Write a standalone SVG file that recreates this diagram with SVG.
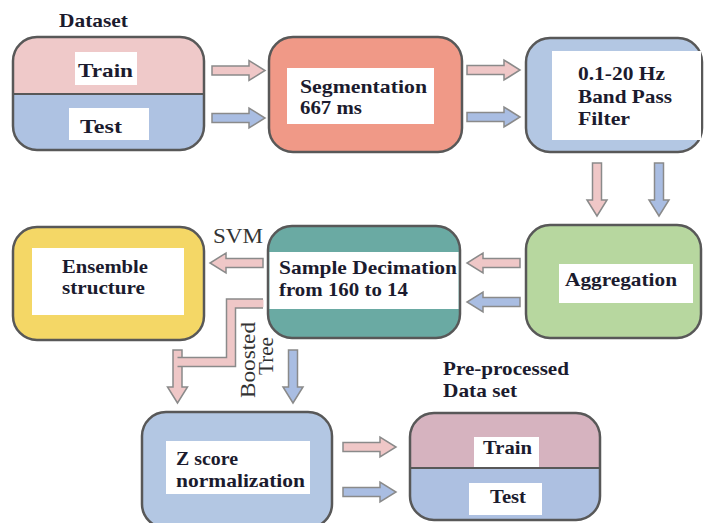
<svg xmlns="http://www.w3.org/2000/svg" xmlns:xlink="http://www.w3.org/1999/xlink" width="705" height="523" viewBox="0 0 705 523">
  <style>
    .box { stroke: #585858; stroke-width: 2.5; }
    .line { stroke: #585858; stroke-width: 2; fill: none; }
    .lbl { fill: #ffffff; }
    .t { font-family: "Liberation Serif", "Times New Roman", serif; font-weight: bold; font-size: 19px; fill: #1b1b2e; }
    .r { font-family: "Liberation Serif", "Times New Roman", serif; font-size: 20px; fill: #333333; }
    .pk { fill: #efc7c7; }
    .bl { fill: #a9bde2; }
    .arr { stroke: #8a8a8a; stroke-width: 1.5; stroke-linejoin: miter; }
  </style>
  <defs>
    <!-- block arrow pointing right, tail centre at origin -->
    <path id="arrow" d="M0,-4.5 H37 V-10 L53,0 L37,10 V4.5 H0 Z"/>
    <clipPath id="clipData"><rect x="13" y="37" width="191" height="113" rx="24"/></clipPath>
    <clipPath id="clipPre"><rect x="410" y="413" width="190" height="107" rx="24"/></clipPath>
  </defs>
  <rect width="705" height="523" fill="#ffffff"/>

  <!-- Dataset -->
  <g id="dataset">
    <text class="t" x="59" y="27" font-size="17" textLength="69" lengthAdjust="spacingAndGlyphs">Dataset</text>
    <rect x="13" y="37" width="191" height="113" rx="24" fill="#efc9c9"/>
    <rect x="13" y="94" width="191" height="56" fill="#aec2e2" clip-path="url(#clipData)"/>
    <line class="line" x1="13" y1="94" x2="204" y2="94"/>
    <rect class="box" x="13" y="37" width="191" height="113" rx="24" fill="none"/>
    <rect class="lbl" x="75" y="52" width="62" height="33"/>
    <text class="t" x="78" y="77" font-size="20" textLength="55" lengthAdjust="spacingAndGlyphs">Train</text>
    <rect class="lbl" x="69" y="108" width="80" height="32"/>
    <text class="t" x="80" y="133" font-size="20" textLength="42" lengthAdjust="spacingAndGlyphs">Test</text>
  </g>

  <!-- Segmentation -->
  <g id="segmentation">
    <rect class="box" x="269" y="37" width="193" height="115" rx="24" fill="#f09987"/>
    <rect class="lbl" x="287" y="68" width="147" height="56"/>
    <text class="t" x="300" y="93" textLength="127" lengthAdjust="spacingAndGlyphs">Segmentation</text>
    <text class="t" x="300" y="114" textLength="62" lengthAdjust="spacingAndGlyphs">667 ms</text>
  </g>

  <!-- Band pass filter -->
  <g id="filter">
    <rect class="box" x="526" y="38" width="176" height="114" rx="24" fill="#b3c7e3"/>
    <rect class="lbl" x="552" y="51" width="149" height="89"/>
    <text class="t" x="578" y="80" textLength="87" lengthAdjust="spacingAndGlyphs">0.1-20 Hz</text>
    <text class="t" x="578" y="103" textLength="94" lengthAdjust="spacingAndGlyphs">Band Pass</text>
    <text class="t" x="578" y="125" textLength="52" lengthAdjust="spacingAndGlyphs">Filter</text>
  </g>

  <!-- Aggregation -->
  <g id="aggregation">
    <rect class="box" x="526" y="225" width="175" height="113" rx="24" fill="#b7d79f"/>
    <rect class="lbl" x="559" y="264" width="134" height="39"/>
    <text class="t" x="565" y="286" textLength="112" lengthAdjust="spacingAndGlyphs">Aggregation</text>
  </g>

  <!-- Sample decimation -->
  <g id="decimation">
    <rect class="box" x="268" y="226" width="192" height="112" rx="24" fill="#6aaaa3"/>
    <rect class="lbl" x="269.5" y="252" width="189" height="57"/>
    <text class="t" x="279" y="274" textLength="178" lengthAdjust="spacingAndGlyphs">Sample Decimation</text>
    <text class="t" x="279" y="296" textLength="129" lengthAdjust="spacingAndGlyphs">from 160 to 14</text>
  </g>

  <!-- Ensemble structure -->
  <g id="ensemble">
    <rect class="box" x="13" y="227" width="191" height="113" rx="24" fill="#f4d766"/>
    <rect class="lbl" x="32" y="248" width="152" height="67"/>
    <text class="t" x="62" y="273" textLength="86" lengthAdjust="spacingAndGlyphs">Ensemble</text>
    <text class="t" x="62" y="294" textLength="83" lengthAdjust="spacingAndGlyphs">structure</text>
  </g>

  <!-- Z score normalization -->
  <g id="zscore">
    <rect class="box" x="142" y="412" width="190" height="116" rx="24" fill="#b3c7e3"/>
    <rect class="lbl" x="166" y="441" width="144" height="53"/>
    <text class="t" x="176" y="465" textLength="62" lengthAdjust="spacingAndGlyphs">Z score</text>
    <text class="t" x="176" y="487" textLength="129" lengthAdjust="spacingAndGlyphs">normalization</text>
  </g>

  <!-- Pre-processed data set -->
  <g id="preprocessed">
    <text class="t" x="443" y="375" textLength="126" lengthAdjust="spacingAndGlyphs">Pre-processed</text>
    <text class="t" x="443" y="397" textLength="74" lengthAdjust="spacingAndGlyphs">Data set</text>
    <rect x="410" y="413" width="190" height="107" rx="24" fill="#d6b3bf"/>
    <rect x="410" y="468" width="190" height="52" fill="#adc0e1" clip-path="url(#clipPre)"/>
    <line class="line" x1="410" y1="468" x2="600" y2="468"/>
    <rect class="box" x="410" y="413" width="190" height="107" rx="24" fill="none"/>
    <rect class="lbl" x="474" y="437" width="65" height="30"/>
    <text class="t" x="483" y="454" textLength="49" lengthAdjust="spacingAndGlyphs">Train</text>
    <rect class="lbl" x="469" y="483" width="73" height="32"/>
    <text class="t" x="490" y="503" textLength="36" lengthAdjust="spacingAndGlyphs">Test</text>
  </g>

  <!-- Connectors -->
  <g id="connectors">
    <use xlink:href="#arrow" class="arr pk" transform="translate(212,70.5)"/>
    <use xlink:href="#arrow" class="arr bl" transform="translate(212,118)"/>
    <use xlink:href="#arrow" class="arr pk" transform="translate(467,70)"/>
    <use xlink:href="#arrow" class="arr bl" transform="translate(467,117)"/>
    <use xlink:href="#arrow" class="arr pk" transform="translate(597,163) rotate(90)"/>
    <use xlink:href="#arrow" class="arr bl" transform="translate(659,163) rotate(90)"/>
    <use xlink:href="#arrow" class="arr pk" transform="translate(520,263) rotate(180)"/>
    <use xlink:href="#arrow" class="arr bl" transform="translate(520,302) rotate(180)"/>
    <use xlink:href="#arrow" class="arr pk" transform="translate(263,263) rotate(180)"/>
    <text class="r" x="213" y="243" textLength="50" lengthAdjust="spacingAndGlyphs">SVM</text>
    <!-- boosted-tree branch -->
    <use xlink:href="#arrow" class="arr pk" transform="translate(177.5,350) rotate(90)"/>
    <polyline points="263,303.5 231,303.5 231,362 177.5,362" fill="none" stroke="#8a8a8a" stroke-width="10.5" stroke-linejoin="miter"/>
    <polyline points="263.5,303.5 231,303.5 231,362 177,362" fill="none" stroke="#efc7c7" stroke-width="7.5" stroke-linejoin="miter"/>
    <use xlink:href="#arrow" class="arr bl" transform="translate(293,350) rotate(90)"/>
    <text class="r" transform="translate(255,360) rotate(-90)" text-anchor="middle" textLength="76" lengthAdjust="spacingAndGlyphs">Boosted</text>
    <text class="r" transform="translate(273,356) rotate(-90)" text-anchor="middle" textLength="38" lengthAdjust="spacingAndGlyphs">Tree</text>
    <use xlink:href="#arrow" class="arr pk" transform="translate(343,447)"/>
    <use xlink:href="#arrow" class="arr bl" transform="translate(343,492)"/>
  </g>
</svg>
